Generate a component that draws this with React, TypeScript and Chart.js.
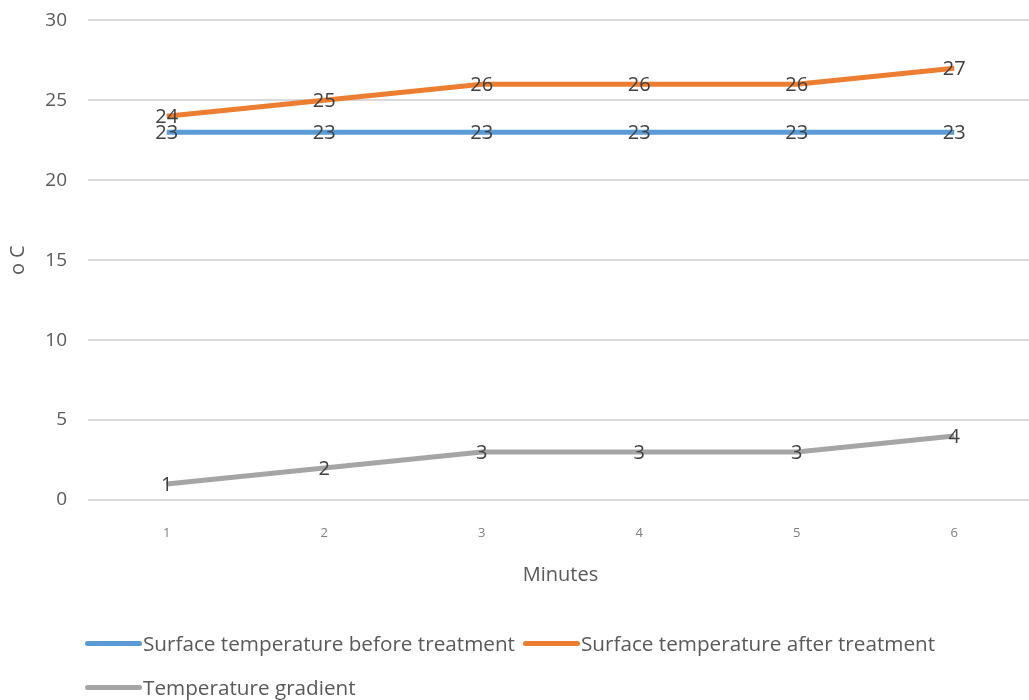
import React, { useEffect, useRef } from "react";
import { Chart, registerables } from "chart.js";

Chart.register(...registerables);

const minutes = ["1", "2", "3", "4", "5", "6"];
const beforeTreatment = [23, 23, 23, 23, 23, 23];
const afterTreatment = [24, 25, 26, 26, 26, 27];
const gradient = [1, 2, 3, 3, 3, 4];
const seriesNames = [
  "Surface temperature before treatment",
  "Surface temperature after treatment",
  "Temperature gradient",
];
const seriesColors = ["#5B9BD5", "#ED7D31", "#A5A5A5"];
const yTitle = "o C";
const xTitle = "Minutes";

const FONT = "'Open Sans', sans-serif";

const dataLabelPlugin = {
  id: "dataLabels",
  afterDatasetsDraw(chart: any) {
    const ctx = chart.ctx;
    ctx.save();
    ctx.font = `20px ${FONT}`;
    ctx.fillStyle = "#404040";
    ctx.textAlign = "center";
    ctx.textBaseline = "middle";
    chart.data.datasets.forEach((ds: any, i: number) => {
      const meta = chart.getDatasetMeta(i);
      meta.data.forEach((pt: any, j: number) => {
        ctx.fillText(String(ds.data[j]), pt.x, pt.y + 1);
      });
    });
    ctx.restore();
  },
};

export default function App() {
  const ref = useRef<HTMLCanvasElement | null>(null);

  useEffect(() => {
    if (!ref.current) return;
    const series = [beforeTreatment, afterTreatment, gradient];
    const chart = new Chart(ref.current, {
      type: "line",
      data: {
        labels: minutes,
        datasets: series.map((d, i) => ({
          label: seriesNames[i],
          data: d,
          borderColor: seriesColors[i],
          backgroundColor: seriesColors[i],
          borderWidth: 5,
          pointRadius: 0,
          tension: 0,
          fill: false,
        })),
      },
      options: {
        responsive: false,
        animation: false,
        layout: { padding: { top: 8, right: 2, bottom: 100, left: 0 } },
        plugins: {
          legend: { display: false },
          tooltip: { enabled: false },
        },
        scales: {
          x: {
            offset: true,
            grid: { display: false, drawTicks: false },
            border: { display: false },
            ticks: {
              color: "#7F7F7F",
              font: { family: FONT, size: 13 },
              padding: 25,
            },
            title: {
              display: true,
              text: xTitle,
              color: "#595959",
              font: { family: FONT, size: 20 },
              padding: { top: 0, bottom: 13 },
            },
            afterFit: (axis: any) => {
              axis.height = 100;
            },
          },
          y: {
            min: 0,
            max: 30,
            ticks: {
              stepSize: 5,
              color: "#595959",
              font: { family: FONT, size: 19 },
              padding: 21,
            },
            grid: { color: "#D9D9D9", lineWidth: 2, drawTicks: false },
            border: { display: false },
            title: {
              display: true,
              text: yTitle,
              color: "#595959",
              font: { family: FONT, size: 20 },
              padding: { top: 6, bottom: 6 },
            },
            afterFit: (axis: any) => {
              axis.width = 88;
            },
          },
        },
      },
      plugins: [dataLabelPlugin],
    });
    return () => chart.destroy();
  }, []);

  return (
    <div
      style={{
        position: "absolute",
        left: 0,
        top: 0,
        width: 1029,
        height: 700,
        overflow: "hidden",
        background: "#fff",
      }}
    >
      <canvas
        ref={ref}
        width={1035}
        height={712}
        style={{ display: "block", position: "absolute", left: 0, top: -12 }}
      />
      <div
        style={{
          position: "absolute",
          left: 85,
          top: 629,
          width: 880,
          display: "flex",
          flexWrap: "wrap",
          columnGap: 8,
          rowGap: 16,
          fontFamily: FONT,
          fontSize: 20.7,
          lineHeight: "28px",
          color: "#595959",
        }}
      >
        {seriesNames.map((name, i) => (
          <div key={name} style={{ display: "flex", alignItems: "center", whiteSpace: "nowrap" }}>
            <span
              style={{
                display: "inline-block",
                width: 57,
                height: 5,
                borderRadius: 3,
                background: seriesColors[i],
                marginRight: 1,
              }}
            />
            <span>{name}</span>
          </div>
        ))}
      </div>
    </div>
  );
}
